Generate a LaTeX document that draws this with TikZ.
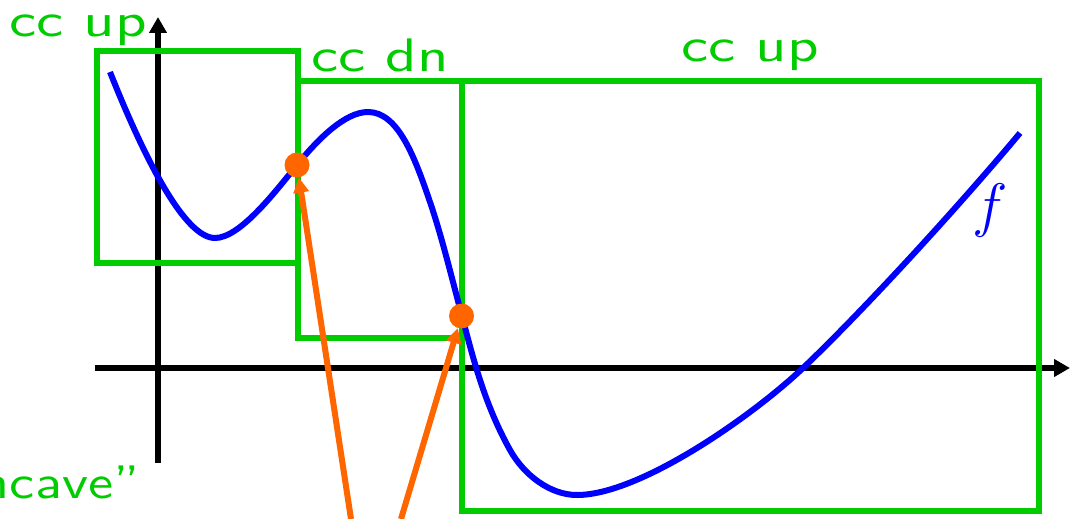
\RequirePackage{fix-cm}
\documentclass[tikz,border=0pt]{standalone}
\usepackage{fontspec}
\newfontfamily\lblfont[Ligatures=TeX]{lmsans10-regular.otf}
\usetikzlibrary{arrows.meta}
\definecolor{boxgreen}{RGB}{0,204,0}
\definecolor{dotorange}{RGB}{255,102,0}
\newcommand{\widetxt}[1]{\scalebox{1.3}[1]{#1}}
\tikzset{
  axisline/.style={line width=6pt, draw=black, -{Triangle[length=16pt,width=17pt]}},
  greenbox/.style={line width=6pt, draw=boxgreen},
  fcurve/.style={line width=6pt, draw=blue, line join=round},
  lbl/.style={text=boxgreen, font=\lblfont\fontsize{47}{57}\selectfont, inner sep=0pt},
  dot/.style={circle, fill=dotorange, draw=none, minimum size=25pt, inner sep=0pt},
  oarrow/.style={line width=6pt, draw=dotorange, -{Triangle[length=15pt,width=15pt]}}
}
\begin{document}
\begin{tikzpicture}[x=1pt,y=-1pt]
\useasboundingbox (0,0) rectangle (1071,519);
% axes
\coordinate (xa0) at (95,368);
\coordinate (xa1) at (1070,368);
\coordinate (ya0) at (158,463);
\coordinate (ya1) at (158,17);
\draw[axisline] (xa0) -- (xa1);
\draw[axisline] (ya0) -- (ya1);
% concavity boxes
\draw[greenbox] (97,51) rectangle (298,263);
\draw[greenbox] (298,81) rectangle (462,338);
\draw[greenbox] (462,81) rectangle (1039,511);
% labels
\node[lbl, anchor=base west] (l1) at (9,37) {\widetxt{cc up}};
\node[lbl, anchor=base west] (l2) at (311,72) {\widetxt{cc dn}};
\node[lbl, anchor=base west] (l3) at (681,62) {\widetxt{cc up}};
\node[lbl, anchor=base east] (l4) at (140,498) {\scalebox{1.2}[1]{ncave''}};
% curve
\draw[fcurve] (110,72) .. controls (145,160) and (185,238) .. (215,238)
  .. controls (240,238) and (275,192) .. (297,165)
  .. controls (318,139) and (345,112) .. (368,112)
  .. controls (398,112) and (414.7,157) .. (430,202)
  .. controls (442,237) and (452.5,281) .. (462,316)
  .. controls (473.7,361) and (485,405) .. (510,450)
  .. controls (524,475) and (550,495) .. (577,495)
  .. controls (640,495) and (753,415.5) .. (803,368)
  .. controls (863,311) and (960,205) .. (1020,133);
\node[text=blue, font=\fontsize{60}{70}\selectfont, inner sep=0pt] (flbl) at (990,210) {$f$};
% inflection points
\node[dot] (p1) at (297,165) {};
\node[dot] (p2) at (461.5,316) {};
\coordinate (s1) at (351,519);
\coordinate (s2) at (401,519);
\draw[oarrow] (s1) -- (p1);
\draw[oarrow] (s2) -- (p2);
\end{tikzpicture}
\end{document}
